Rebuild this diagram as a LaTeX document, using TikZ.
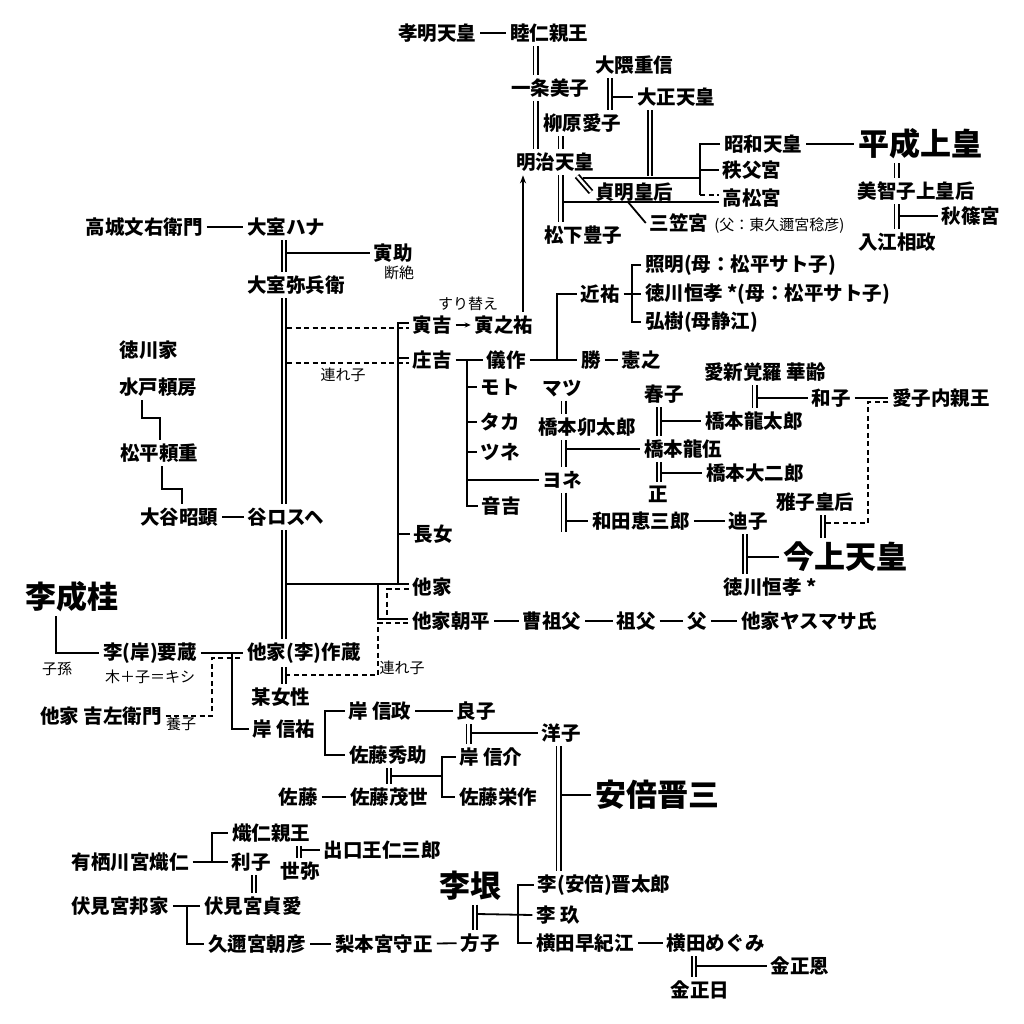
\documentclass[tikz,border=0pt]{standalone}
\usepackage{fontspec}
\setmainfont{Noto Sans CJK JP}
\newfontfamily\heavyfont{Noto Sans CJK JP Black}
\usetikzlibrary{arrows.meta}
\begin{document}
\begin{tikzpicture}[x=1pt,y=-1pt,line width=1.8pt,
		nm/.style={font=\bfseries\fontsize{19.5}{20}\selectfont,inner sep=0pt,outer sep=4pt},
		sm/.style={font=\fontsize{15}{16}\selectfont,inner sep=0pt,outer sep=2pt},
		big/.style={font=\heavyfont\fontsize{31}{32}\selectfont,inner sep=0pt,outer sep=4pt},
		mar/.style={double,double distance=2.4pt},
		dp/.style={dash pattern=on 5pt off 3.5pt}]
		\fill[color=white] (0,0) rectangle (1024,1024);
		\node[nm] (koumei) at (437,33) {孝明天皇};
		\node[nm] (mutsuhito) at (549,33) {睦仁親王};
		\node[nm] (ichijou) at (550,88) {一条美子};
		\node[nm] (ookuma) at (634,65) {大隈重信};
		\node[nm] (taisho) at (676,97) {大正天皇};
		\node[nm] (yanagihara) at (582,123) {柳原愛子};
		\node[nm] (meiji) at (555,162) {明治天皇};
		\node[nm] (teimei) at (634,192) {貞明皇后};
		\node[nm] (matsushita) at (583,235) {松下豊子};
		\node[nm] (mikasa) at (679,223) {三笠宮};
		\node[sm,anchor=base west] (mikasanote) at (mikasa.base east) {(父：東久邇宮稔彦)};
		\node[nm] (showa) at (763,144) {昭和天皇};
		\node[nm] (chichibu) at (752,170) {秩父宮};
		\node[nm] (takamatsu) at (752,198) {高松宮};
		\node[big] (heisei) at (920,144) {平成上皇};
		\node[nm] (michiko) at (916,191) {美智子上皇后};
		\node[nm] (akishino) at (971,216) {秋篠宮};
		\node[nm] (irie) at (897,242) {入江相政};
		\node[nm] (takagi) at (144,227) {高城文右衛門};
		\node[nm] (hana) at (286,227) {大室ハナ};
		\node[nm] (torasuke) at (393,253) {寅助};
		\node[sm] (danzetsu) at (399,273) {断絶};
		\node[nm] (yahei) at (296,285) {大室弥兵衛};
		\node[sm] (surikae) at (468,304) {すり替え};
		\node[nm] (toraki) at (432,325) {寅吉};
		\node[nm] (toranosuke) at (504,325) {寅之祐};
		\node[nm] (shoukichi) at (432,360) {庄吉};
		\node[sm] (tsureko) at (343,375) {連れ子};
		\node[nm] (gisaku) at (506,360) {儀作};
		\node[nm] (chikasuke) at (600,294) {近祐};
		\node[nm,anchor=west] (teruaki) at (641,265) {照明(母：松平サト子)};
		\node[nm,anchor=west] (tsunenari) at (641,294) {徳川恒孝 *(母：松平サト子)};
		\node[nm,anchor=west] (hiroki) at (641,322) {弘樹(母静江)};
		\node[nm] (katsu) at (591,360) {勝};
		\node[nm] (noriyuki) at (641,360) {憲之};
		\node[nm] (moto) at (500,387) {モト};
		\node[nm] (taka) at (500,422) {タカ};
		\node[nm] (tsune) at (500,452) {ツネ};
		\node[nm] (yone) at (562,480) {ヨネ};
		\node[nm] (otokichi) at (501,506) {音吉};
		\node[nm] (matsu) at (562,388) {マツ};
		\node[nm] (utaro) at (587,427) {橋本卯太郎};
		\node[nm] (haruko) at (664,394) {春子};
		\node[nm] (ryutaro) at (754,421) {橋本龍太郎};
		\node[nm] (ryugo) at (683,449) {橋本龍伍};
		\node[nm] (daijiro) at (755,473) {橋本大二郎};
		\node[nm] (tadashi) at (658,494) {正};
		\node[nm] (aishin) at (765,372) {愛新覚羅 華齢};
		\node[nm] (kazuko) at (831,398) {和子};
		\node[nm] (aiko) at (941,398) {愛子内親王};
		\node[nm] (masako) at (815,502) {雅子皇后};
		\node[big] (kinjou) at (845,557) {今上天皇};
		\node[nm] (wada) at (641,521) {和田恵三郎};
		\node[nm] (michiko2) at (748,521) {迪子};
		\node[nm] (tokugawa) at (770,587) {徳川恒孝 *};
		\node[nm] (choujo) at (433,534) {長女};
		\node[nm] (takeA) at (432,587) {他家};
		\node[nm] (asahira) at (451,621) {他家朝平};
		\node[nm] (sousofu) at (552,621) {曹祖父};
		\node[nm] (sofu) at (636,621) {祖父};
		\node[nm] (chichi) at (697,621) {父};
		\node[nm] (yasumasa) at (809,621) {他家ヤスマサ氏};
		\node[sm] (tsureko2) at (402,668) {連れ子};
		\node[nm] (tokugawake) at (149,350) {徳川家};
		\node[nm] (mito) at (158,387) {水戸頼房};
		\node[nm] (matsudaira) at (159,453) {松平頼重};
		\node[nm] (otani) at (179,517) {大谷昭顕};
		\node[nm] (tanirosuhe) at (286,517) {谷ロスヘ};
		\node[big] (riseikei) at (72,597) {李成桂};
		\node[sm] (shison) at (57,669) {子孫};
		\node[nm] (youzou) at (150,653) {李(岸)要蔵};
		\node[sm] (kishinote) at (150,677) {木＋子＝キシ};
		\node[nm] (sakuzou) at (304,653) {他家(李)作蔵};
		\node[nm] (kichizaemon) at (101,716) {他家 吉左衛門};
		\node[sm] (youshi) at (181,724) {養子};
		\node[nm] (bojosei) at (281,697) {某女性};
		\node[nm] (nobusuke) at (284,729) {岸 信祐};
		\node[nm] (nobumasa) at (380,711) {岸 信政};
		\node[nm] (yoshiko) at (476,711) {良子};
		\node[nm] (youko) at (561,733) {洋子};
		\node[nm] (hidesuke) at (388,755) {佐藤秀助};
		\node[nm] (shinsuke) at (491,757) {岸 信介};
		\node[nm] (satou) at (298,797) {佐藤};
		\node[nm] (shigeyo) at (389,797) {佐藤茂世};
		\node[nm] (eisaku) at (498,797) {佐藤栄作};
		\node[big] (abe) at (657,795) {安倍晋三};
		\node[nm] (taruhito) at (271,833) {熾仁親王};
		\node[nm] (arisugawa) at (130,862) {有栖川宮熾仁};
		\node[nm] (toshiko) at (251,862) {利子};
		\node[nm] (deguchi) at (382,850) {出口王仁三郎};
		\node[nm] (seya) at (300,871) {世弥};
		\node[nm] (fushimi) at (120,906) {伏見宮邦家};
		\node[nm] (sadanaru) at (253,906) {伏見宮貞愛};
		\node[nm] (asahiko) at (257,944) {久邇宮朝彦};
		\node[nm] (nashimoto) at (384,944) {梨本宮守正};
		\node[nm] (masako2) at (480,943) {方子};
		\node[big] (rigin) at (470,886) {李垠};
		\node[nm] (shintaro) at (604,885) {李(安倍)晋太郎};
		\node[nm] (rikyu) at (558,915) {李 玖};
		\node[nm] (sakie) at (585,943) {横田早紀江};
		\node[nm] (megumi) at (716,943) {横田めぐみ};
		\node[nm] (jongun) at (800,966) {金正恩};
		\node[nm] (jongil) at (700,990) {金正日};
		\draw (koumei) -- (mutsuhito);
		\draw[mar] (mutsuhito.south -| 535.5,0) -- (ichijou.north -| 535.5,0);
		\draw[mar] (ichijou.south -| 535.5,0) -- (meiji.north -| 535.5,0);
		\draw[mar] (ookuma.south -| 610,0) -- (yanagihara.north -| 610,0);
		\draw (taisho.west -| 612,0) -- (taisho.west);
		\draw[mar] (yanagihara.south -| 560.5,0) -- (meiji.north -| 560.5,0);
		\draw[mar] (taisho.south -| 650,0) -- (650,176.5);
		\draw (583,178) -- (700,178);
		\draw[mar] (577,176) -- (teimei.west);
		\draw[mar] (meiji.south -| 560.5,0) -- (matsushita.north -| 560.5,0);
		\draw (562,202) -- ([yshift=-4pt]takamatsu.west);
		\draw (628,202) -- (mikasa.west);
		\draw (showa.west) -| ([yshift=3pt]takamatsu.west -| 700,0);
		\draw (chichibu.west -| 700,0) -- (chichibu.west);
		\draw[dp] ([yshift=3pt]takamatsu.west -| 700,0) -- ([yshift=3pt]takamatsu.west);
		\draw (showa) -- (heisei);
		\draw[mar] (heisei.south -| 896.5,0) -- (michiko.north -| 896.5,0);
		\draw[mar] (michiko.south -| 896.5,0) -- (irie.north -| 896.5,0);
		\draw (akishino.west -| 899,0) -- (akishino.west);
		\draw (takagi) -- (hana);
		\draw[mar] (hana.south -| 284,0) -- (yahei.north -| 284,0);
		\draw (torasuke.west -| 286,0) -- (torasuke.west);
		\draw[mar] (yahei.south -| 284,0) -- (tanirosuhe.north -| 284,0);
		\draw[mar] (tanirosuhe.south -| 284,0) -- (sakuzou.north -| 284,0);
		\draw[mar] (sakuzou.south -| 284,0) -- (bojosei.north -| 284,0);
		\draw[dp] (287,328) -- ([yshift=-3pt]toraki.west);
		\draw[dp] (287,363) -- ([yshift=-3pt]shoukichi.west);
		\draw ([yshift=2pt]toraki.west) -| (398,584);
		\draw (398,358) -- ([yshift=2pt]shoukichi.west);
		\draw (398,534) -- (choujo.west);
		\draw (287,584) -- ([yshift=3pt]takeA.west);
		\draw (378,584) |- ([yshift=2pt]asahira.west);
		\draw[dp] ([yshift=-2pt]takeA.west) -| (387,619);
		\draw[dp] ([yshift=-2pt]asahira.west) -| (378,675) -- (287,675);
		\draw[-{Stealth[length=6pt,width=5pt]},line width=1.3pt] (toraki) -- (toranosuke);
		\draw[-{Stealth[length=8pt,width=6pt]}] (toranosuke.north -| 523,0) -- (meiji.south -| 523,0);
		\draw (shoukichi) -- (gisaku);
		\draw (467,360) |- (otokichi.west);
		\foreach \n in {moto,taka,tsune,yone} \draw (\n.west -| 467,0) -- (\n.west);
		\draw (gisaku) -- (katsu);
		\draw (557,360) |- (chikasuke.west);
		\draw (chikasuke) -- (tsunenari.west);
		\draw (teruaki.west) -| (hiroki.west -| 632,0) -- (hiroki.west);
		\draw (katsu) -- (noriyuki);
		\draw[mar] (matsu.south -| 563.5,0) -- (utaro.north -| 563.5,0);
		\draw[mar] (utaro.south -| 563.5,0) -- (yone.north -| 563.5,0);
		\draw (ryugo.west -| 566,0) -- (ryugo.west);
		\draw[mar] (yone.south -| 563.5,0) -- (563.5,532);
		\draw (wada.west -| 566,0) -- (wada.west);
		\draw (wada) -- (michiko2);
		\draw[mar] (haruko.south -| 659,0) -- (ryugo.north -| 659,0);
		\draw (ryutaro.west -| 661.5,0) -- (ryutaro.west);
		\draw[mar] (ryugo.south -| 659,0) -- (tadashi.north -| 659,0);
		\draw (daijiro.west -| 661.5,0) -- (daijiro.west);
		\draw[mar] (aishin.south -| 754.5,0) -- (754.5,408);
		\draw (kazuko.west -| 757,0) -- (kazuko.west);
		\draw (kazuko) -- (aiko);
		\draw[dp] ([yshift=-4pt]aiko.west) -| (868,523) -- (826,523);
		\draw[mar] (masako.south -| 823,0) -- (kinjou.north -| 823,0);
		\draw[mar] (michiko2.south -| 745,0) -- (tokugawa.north -| 745,0);
		\draw (kinjou.west -| 747.5,0) -- (kinjou.west);
		\draw (asahira) -- (sousofu);
		\draw (sousofu) -- (sofu);
		\draw (sofu) -- (chichi);
		\draw (chichi) -- (yasumasa);
		\draw (mito.south -| 142,0) -- (142,418) -- (160,418) -- (matsudaira.north -| 160,0);
		\draw (matsudaira.south -| 162,0) -- (162,489) -- (182,489) -- (otani.north -| 182,0);
		\draw (otani) -- (tanirosuhe);
		\draw (riseikei.south -| 56,0) |- (youzou.west);
		\draw (youzou) -- (sakuzou);
		\draw (232,653) |- (nobusuke.west);
		\draw[dp] (kichizaemon.east) -| ([yshift=-5pt]sakuzou.west -| 212,0) -- ([yshift=-5pt]sakuzou.west);
		\draw (nobumasa.west) -| (hidesuke.west -| 325,0) -- (hidesuke.west);
		\draw (nobumasa) -- (yoshiko);
		\draw[mar] (yoshiko.south -| 468.5,0) -- (468.5,744);
		\draw (youko.west -| 471,0) -- (youko.west);
		\draw[mar] (hidesuke.south -| 389,0) -- (shigeyo.north -| 389,0);
		\draw (391.5,776) -- (442,776);
		\draw (shinsuke.west) -| (eisaku.west -| 442,0) -- (eisaku.west);
		\draw (satou) -- (shigeyo);
		\draw[mar] (youko.south -| 558.5,0) -- (shintaro.north -| 558.5,0);
		\draw (abe.west -| 561,0) -- (abe.west);
		\draw (arisugawa) -- (toshiko);
		\draw (arisugawa.east -| 212,0) |- (taruhito.west);
		\draw[mar] (taruhito.south -| 299,0) -- (seya.north -| 299,0);
		\draw (deguchi.west -| 301.5,0) -- (deguchi.west);
		\draw[mar] (toshiko.south -| 254,0) -- (sadanaru.north -| 254,0);
		\draw (fushimi) -- (sadanaru);
		\draw (187,906) |- (asahiko.west);
		\draw (asahiko) -- (nashimoto);
		\draw (nashimoto) -- (masako2);
		\draw[mar] (rigin.south -| 475,0) -- (masako2.north -| 475,0);
		\draw (477.5,914) -- (rikyu.west);
		\draw (shintaro.west) -| (sakie.west -| 518,0) -- (sakie.west);
		\draw (sakie) -- (megumi);
		\draw[mar] (megumi.south -| 694,0) -- (jongil.north -| 694,0);
		\draw (jongun.west -| 696.5,0) -- (jongun.west);
	\end{tikzpicture}
\end{document}
